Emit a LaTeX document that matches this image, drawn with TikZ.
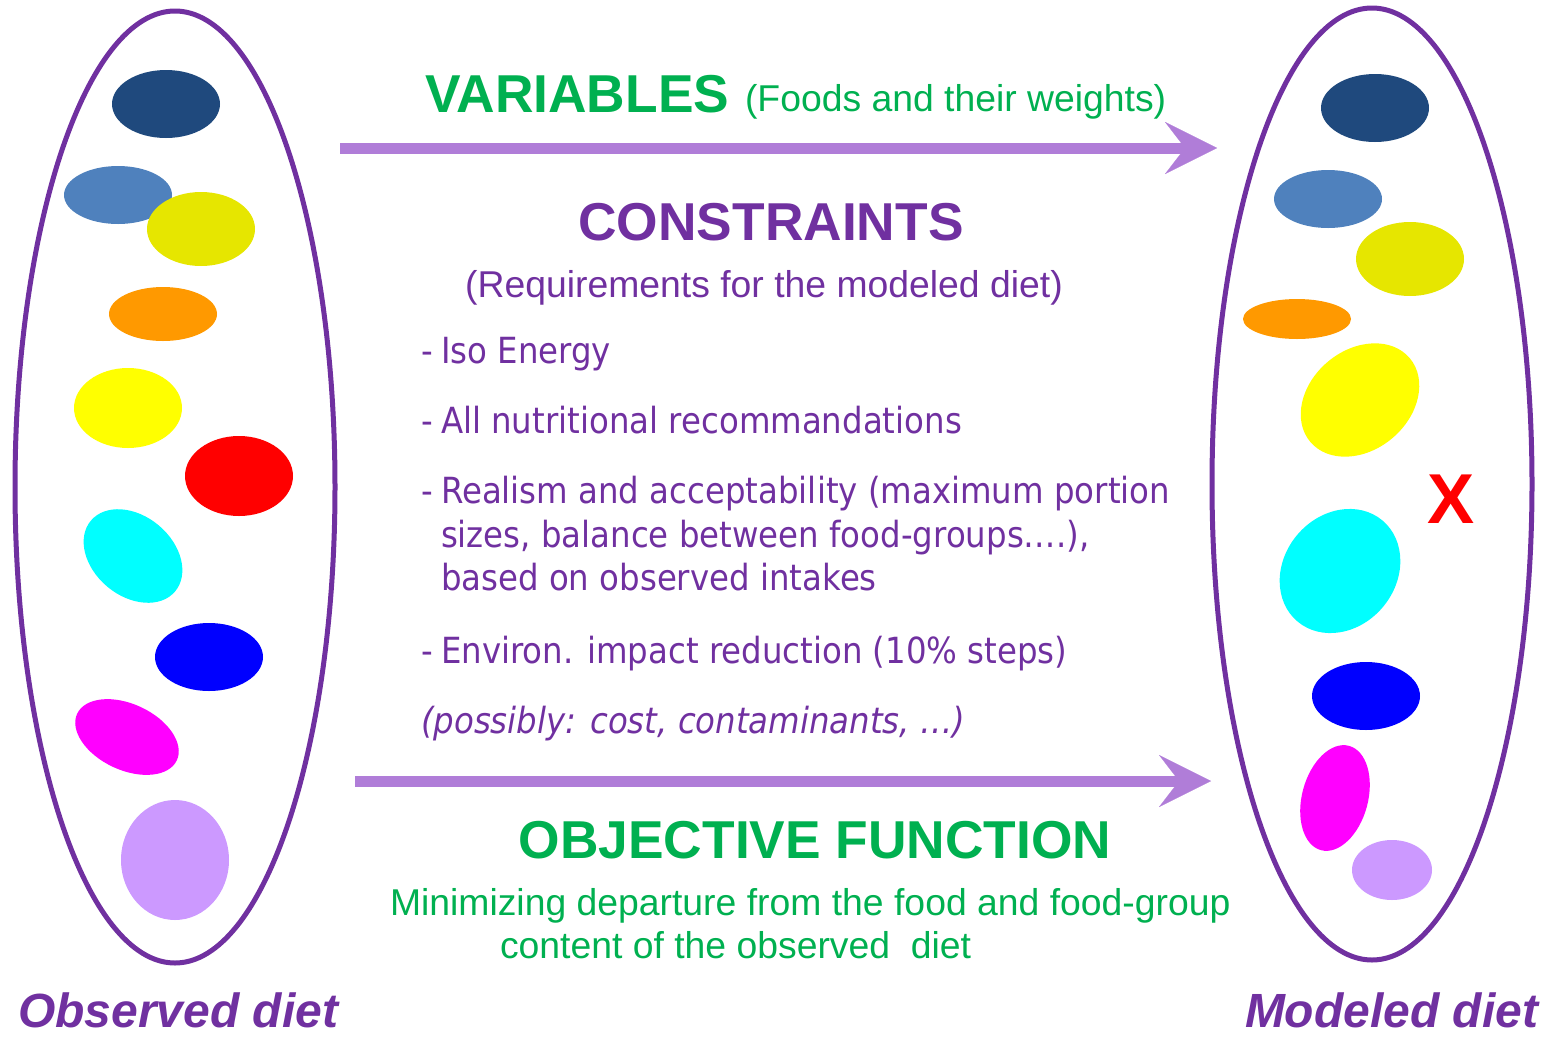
\documentclass[tikz,border=0pt]{standalone}
\usepackage{fontspec}
\setmainfont{Liberation Sans}
\newfontfamily\tahfont[FakeStretch=0.9]{DejaVu Sans}
\usetikzlibrary{arrows.meta,shapes.geometric}
\definecolor{purp}{HTML}{7030A0}
\definecolor{arrowc}{RGB}{176,125,216}
\definecolor{grn}{HTML}{00B050}
\definecolor{navy}{HTML}{1F497D}
\definecolor{steel}{HTML}{4F81BD}
\definecolor{olive}{HTML}{E6E600}
\definecolor{orng}{HTML}{FF9900}
\definecolor{yell}{HTML}{FFFF00}
\definecolor{rd}{HTML}{FF0000}
\definecolor{cyn}{HTML}{00FFFF}
\definecolor{blu}{HTML}{0000FF}
\definecolor{mag}{HTML}{FF00FF}
\definecolor{lav}{HTML}{CC99FF}
\begin{document}
\begin{tikzpicture}[x=0.75pt,y=0.75pt,
  txt/.style={inner sep=0pt, outer sep=0pt},
  dietoval/.style={draw=purp, line width=3.75pt, ellipse, minimum width=240pt, minimum height=714pt, inner sep=0pt},
  bigarrow/.style={draw=arrowc, line width=8.25pt, -{Stealth[length=39pt,width=39pt,inset=15pt,line width=0.1pt]}},
  head/.style={txt, font=\bfseries\fontsize{40pt}{48pt}\selectfont},
  sub/.style={txt, font=\fontsize{28pt}{34pt}\selectfont},
  bul/.style={txt, anchor=base west, text=purp, font=\tahfont\fontsize{27pt}{33pt}\selectfont},
  dietlabel/.style={txt, anchor=base west, text=purp, font=\bfseries\itshape\fontsize{36pt}{43pt}\selectfont}
]
\useasboundingbox (0,0) rectangle (1542,-1036);
\clip (0,0) rectangle (1542,-1036);

% big ovals
\node[dietoval] (obs) at (175,-487) {};
\node[dietoval] (mod) at (1372,-484) {};

% foods, observed diet
\fill[navy]  (166,-104) ellipse [x radius=54, y radius=34];
\fill[steel] (118,-195) ellipse [x radius=54, y radius=29];
\fill[olive] (201,-229) ellipse [x radius=54, y radius=37];
\fill[orng]  (163,-314) ellipse [x radius=54, y radius=27];
\fill[yell]  (128,-408) ellipse [x radius=54, y radius=40];
\fill[rd]    (239,-476) ellipse [x radius=54, y radius=40];
\fill[cyn, rotate around={-40:(133,-556)}] (133,-556) ellipse [x radius=55, y radius=40];
\fill[blu]   (209,-657) ellipse [x radius=54, y radius=34];
\fill[mag, rotate around={-25:(127,-737)}] (127,-737) ellipse [x radius=55, y radius=33];
\fill[lav]   (175,-860) ellipse [x radius=54, y radius=60];

% foods, modeled diet
\fill[navy]  (1375,-108) ellipse [x radius=54, y radius=34];
\fill[steel] (1328,-199) ellipse [x radius=54, y radius=29];
\fill[olive] (1410,-259) ellipse [x radius=54, y radius=37];
\fill[orng]  (1297,-319) ellipse [x radius=54, y radius=20];
\fill[yell, rotate around={40:(1360,-400)}] (1360,-400) ellipse [x radius=65, y radius=50];
\fill[cyn, rotate around={50:(1340,-571)}] (1340,-571) ellipse [x radius=66, y radius=56];
\fill[blu]   (1366,-696) ellipse [x radius=54, y radius=34];
\fill[mag, rotate around={75:(1335,-798)}] (1335,-798) ellipse [x radius=54, y radius=33];
\fill[lav]   (1392,-870) ellipse [x radius=40, y radius=30];

\node[txt, anchor=base, text=rd, font=\bfseries\fontsize{53pt}{60pt}\selectfont] (x) at (1451,-523) {X};

% arrows
\coordinate (a1s) at (340,-148);
\coordinate (a1e) at (1217,-148);
\coordinate (a2s) at (355,-781);
\coordinate (a2e) at (1211,-781);
\draw[bigarrow] (a1s) -- (a1e);
\draw[bigarrow] (a2s) -- (a2e);

% variables
\node[head, anchor=base west, text=grn] (var) at (425,-112) {VARIABLES};
\node[sub, anchor=base west, text=grn] (varsub) at (745,-111) {(Foods and their weights)};

% constraints
\node[head, anchor=base, text=purp] (con) at (771,-240) {CONSTRAINTS};
\node[sub, anchor=base, text=purp] (consub) at (764,-297) {(Requirements for the modeled diet)};

\node[bul] (d1) at (421,-363) {-};
\node[bul] (b1) at (441,-363) {Iso Energy};
\node[bul] (d2) at (421,-433) {-};
\node[bul] (b2) at (441,-433) {All nutritional recommandations};
\node[bul] (d3) at (421,-503) {-};
\node[bul] (b3a) at (441,-503) {Realism and acceptability (maximum portion};
\node[bul] (b3b) at (441,-547) {sizes, balance between food-groups\dots.),};
\node[bul] (b3c) at (441,-590) {based on observed intakes};
\node[bul] (d4) at (421,-663) {-};
\node[bul] (b4) at (441,-663) {Environ. impact reduction (10\% steps)};
\node[bul, font=\tahfont\itshape\fontsize{27pt}{33pt}\selectfont] (b5) at (421,-733) {(possibly: cost, contaminants, \dots)};

% objective
\node[head, anchor=base, text=grn] (obj) at (815,-858) {OBJECTIVE FUNCTION};
\node[sub, anchor=base west, text=grn] (obj1) at (390,-915) {Minimizing departure from the food and food-group};
\node[sub, anchor=base west, text=grn] (obj2) at (500,-958) {content of the observed\ \ diet};

% labels
\node[dietlabel] (lobs) at (18,-1027) {Observed diet};
\node[dietlabel] (lmod) at (1245,-1027) {Modeled diet};
\end{tikzpicture}
\end{document}
